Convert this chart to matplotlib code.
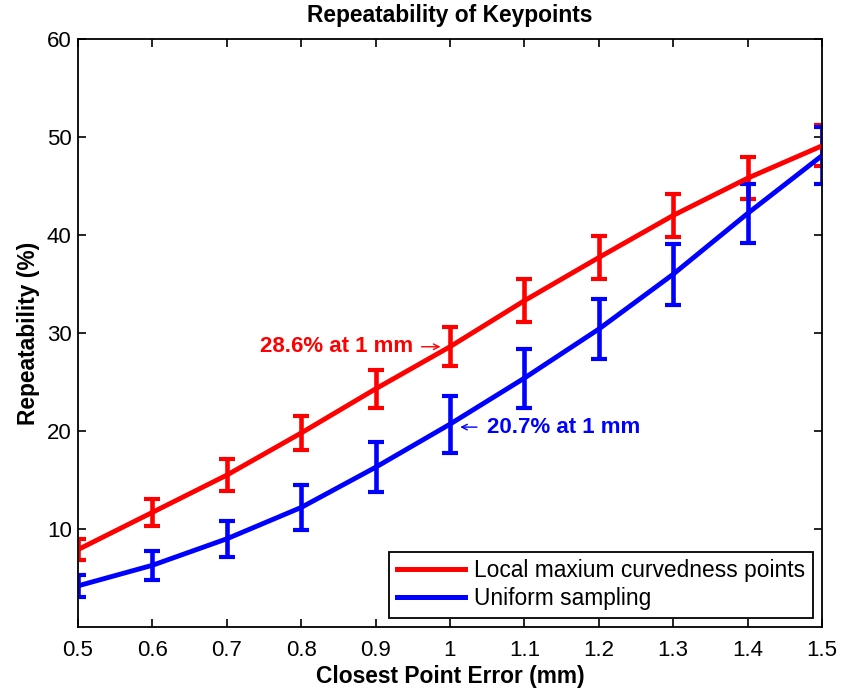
import numpy as np
import matplotlib
matplotlib.use("Agg")
from matplotlib import pyplot as plt
from matplotlib.lines import Line2D

plt.rcParams['font.family'] = ['Liberation Sans', 'DejaVu Sans']

# closest point error (mm)
err_mm = [0.5, 0.6, 0.7, 0.8, 0.9, 1.0, 1.1, 1.2, 1.3, 1.4, 1.5]

# repeatability (%) and error bar half-widths
curv_rep = [7.9, 11.7, 15.5, 19.8, 24.3, 28.6, 33.3, 37.7, 42.0, 45.8, 49.1]
curv_err = [1.1, 1.4, 1.6, 1.7, 1.9, 2.0, 2.2, 2.2, 2.2, 2.15, 2.1]
unif_rep = [4.2, 6.3, 9.0, 12.2, 16.3, 20.7, 25.4, 30.4, 36.0, 42.2, 48.1]
unif_err = [1.1, 1.5, 1.85, 2.25, 2.55, 2.9, 3.0, 3.1, 3.1, 3.0, 2.9]

labels = ['Local maxium curvedness points', 'Uniform sampling']
red = (1, 0, 0)
blue = (0, 0, 1)

fig = plt.figure(figsize=(8.41, 6.93), dpi=100)
ax = fig.add_axes([0.0927, 0.0952, 0.8847, 0.8485])

ax.errorbar(err_mm, curv_rep, yerr=curv_err, color=red, lw=3.5,
            elinewidth=3.3, capsize=5.8, capthick=3.0)
ax.errorbar(err_mm, unif_rep, yerr=unif_err, color=blue, lw=3.5,
            elinewidth=3.3, capsize=5.8, capthick=3.0)

# annotations at 1 mm
ax.annotate('', xy=(0.991, 28.6), xytext=(0.958, 28.6),
            arrowprops=dict(arrowstyle='->', color=red, lw=1))
ax.text(0.951, 28.6, '28.6% at 1 mm', color=red, fontsize=16,
        fontweight='bold', ha='right', va='center')
ax.annotate('', xy=(1.010, 20.4), xytext=(1.040, 20.4),
            arrowprops=dict(arrowstyle='->', color=blue, lw=1))
ax.text(1.050, 20.4, '20.7% at 1 mm', color=blue, fontsize=16,
        fontweight='bold', ha='left', va='center')

ax.set_xlim(0.5, 1.5)
ax.set_ylim(0, 60)
ax.set_xticks(err_mm)
ax.set_xticklabels(['0.5', '0.6', '0.7', '0.8', '0.9', '1', '1.1', '1.2',
                    '1.3', '1.4', '1.5'])
ax.set_yticks([10, 20, 30, 40, 50, 60])
ax.tick_params(direction='in', top=True, right=True, length=6, width=1.2,
               labelsize=16)
ax.tick_params(axis='x', pad=9)
ax.tick_params(axis='y', pad=4.5)
for s in ax.spines.values():
    s.set_linewidth(1.3)

ax.set_title('Repeatability of Keypoints', fontsize=16.4, fontweight='bold',
             pad=12)
ax.set_xlabel('Closest Point Error (mm)', fontsize=16.4, fontweight='bold',
              labelpad=3)
ax.set_ylabel('Repeatability (%)', fontsize=16.4, fontweight='bold',
              labelpad=5)

handles = [Line2D([], [], color=red, lw=3.6),
           Line2D([], [], color=blue, lw=3.6)]
leg = ax.legend(handles, labels, loc='lower right', fontsize=16.4,
                handlelength=3.0, fancybox=False, edgecolor='black',
                framealpha=1, borderaxespad=0.4, handletextpad=0.4,
                labelspacing=0.23, borderpad=0.33)
leg.get_frame().set_linewidth(1.3)

fig.savefig('out.png', dpi=100)
